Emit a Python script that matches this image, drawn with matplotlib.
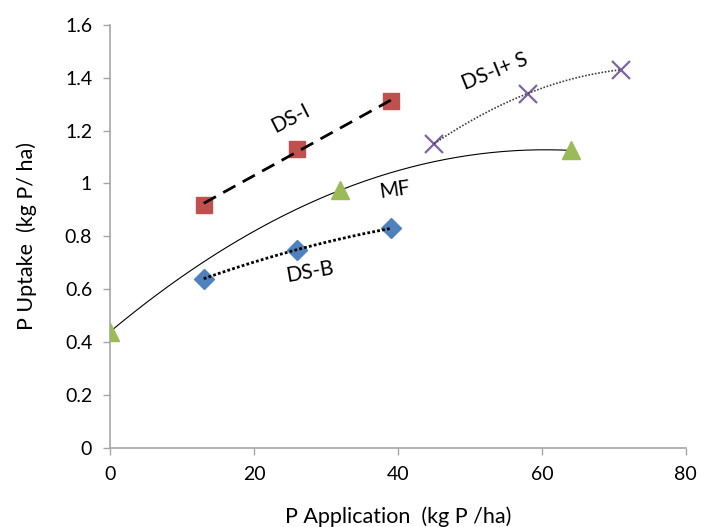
import matplotlib
matplotlib.use("Agg")
import matplotlib.pyplot as plt
import numpy as np

plt.rcParams["font.family"] = ["Lato", "DejaVu Sans"]

# data
ds_i_x = [13, 26, 39]
ds_i_y = [0.92, 1.13, 1.31]
ds_b_x = [13, 26, 39]
ds_b_y = [0.64, 0.75, 0.83]
mf_x = [0, 32, 64]
mf_y = [0.44, 0.975, 1.125]
dsis_x = [45, 58, 71]
dsis_y = [1.15, 1.34, 1.43]

x_ticks = [0, 20, 40, 60, 80]
y_ticks = [0, 0.2, 0.4, 0.6, 0.8, 1.0, 1.2, 1.4, 1.6]
y_tick_labels = ["0", "0.2", "0.4", "0.6", "0.8", "1", "1.2", "1.4", "1.6"]

GRAY = "#A6A6A6"


def trend(ax, x, y, deg, **kw):
    coef = np.polyfit(x, y, deg)
    xs = np.linspace(min(x), max(x), 200)
    ax.plot(xs, np.polyval(coef, xs), **kw)


fig = plt.figure(figsize=(7.02, 5.27), dpi=100)
ax = fig.add_axes([0.157, 0.15, 0.82, 0.803])

# trend lines
trend(ax, ds_i_x, ds_i_y, 1, color="black", lw=2.0, ls=(0, (5, 3)), zorder=3)
trend(ax, ds_b_x, ds_b_y, 2, color="black", lw=2.0, ls=(0, (1.0, 0.8)), zorder=3)
trend(ax, mf_x, mf_y, 2, color="black", lw=0.8, zorder=2)
trend(ax, dsis_x, dsis_y, 2, color="#404040", lw=1.2, ls=(0, (1, 1)), zorder=3)

# markers
ax.plot(ds_i_x, ds_i_y, "s", color="#C0504D", ms=12, mec="#C0504D", zorder=2)
ax.plot(ds_b_x, ds_b_y, "D", color="#4F81BD", ms=10, mec="#4F81BD", zorder=2)
ax.plot(mf_x, mf_y, "^", color="#9BBB59", ms=13, mec="#9BBB59", zorder=4)
ax.plot(dsis_x, dsis_y, "x", color="#8064A2", ms=13, mew=1.6, zorder=2)

# series labels
ax.text(25, 1.245, "DS-I", fontsize=15, rotation=27, ha="center", va="center")
ax.text(39.5, 0.975, "MF", fontsize=15, rotation=8, ha="center", va="center")
ax.text(27.8, 0.665, "DS-B", fontsize=15, rotation=10, ha="center", va="center")
ax.text(53.5, 1.425, "DS-I+ S", fontsize=15, rotation=22, ha="center", va="center")

ax.set_xlim(0, 80)
ax.set_ylim(0, 1.6)
ax.set_xticks(x_ticks)
ax.set_yticks(y_ticks)
ax.set_yticklabels(y_tick_labels)
ax.tick_params(axis="both", direction="out", length=5, width=1, color=GRAY,
               labelsize=14, pad=8)

for side in ("top", "right"):
    ax.spines[side].set_visible(False)
for side in ("left", "bottom"):
    ax.spines[side].set_color(GRAY)
    ax.spines[side].set_linewidth(1.2)

ax.set_xlabel("P Application  (kg P /ha)", fontsize=15.5, labelpad=17)
ax.set_ylabel("P Uptake  (kg P/ ha)", fontsize=15.5, labelpad=20)

fig.savefig("out.png", dpi=100)
